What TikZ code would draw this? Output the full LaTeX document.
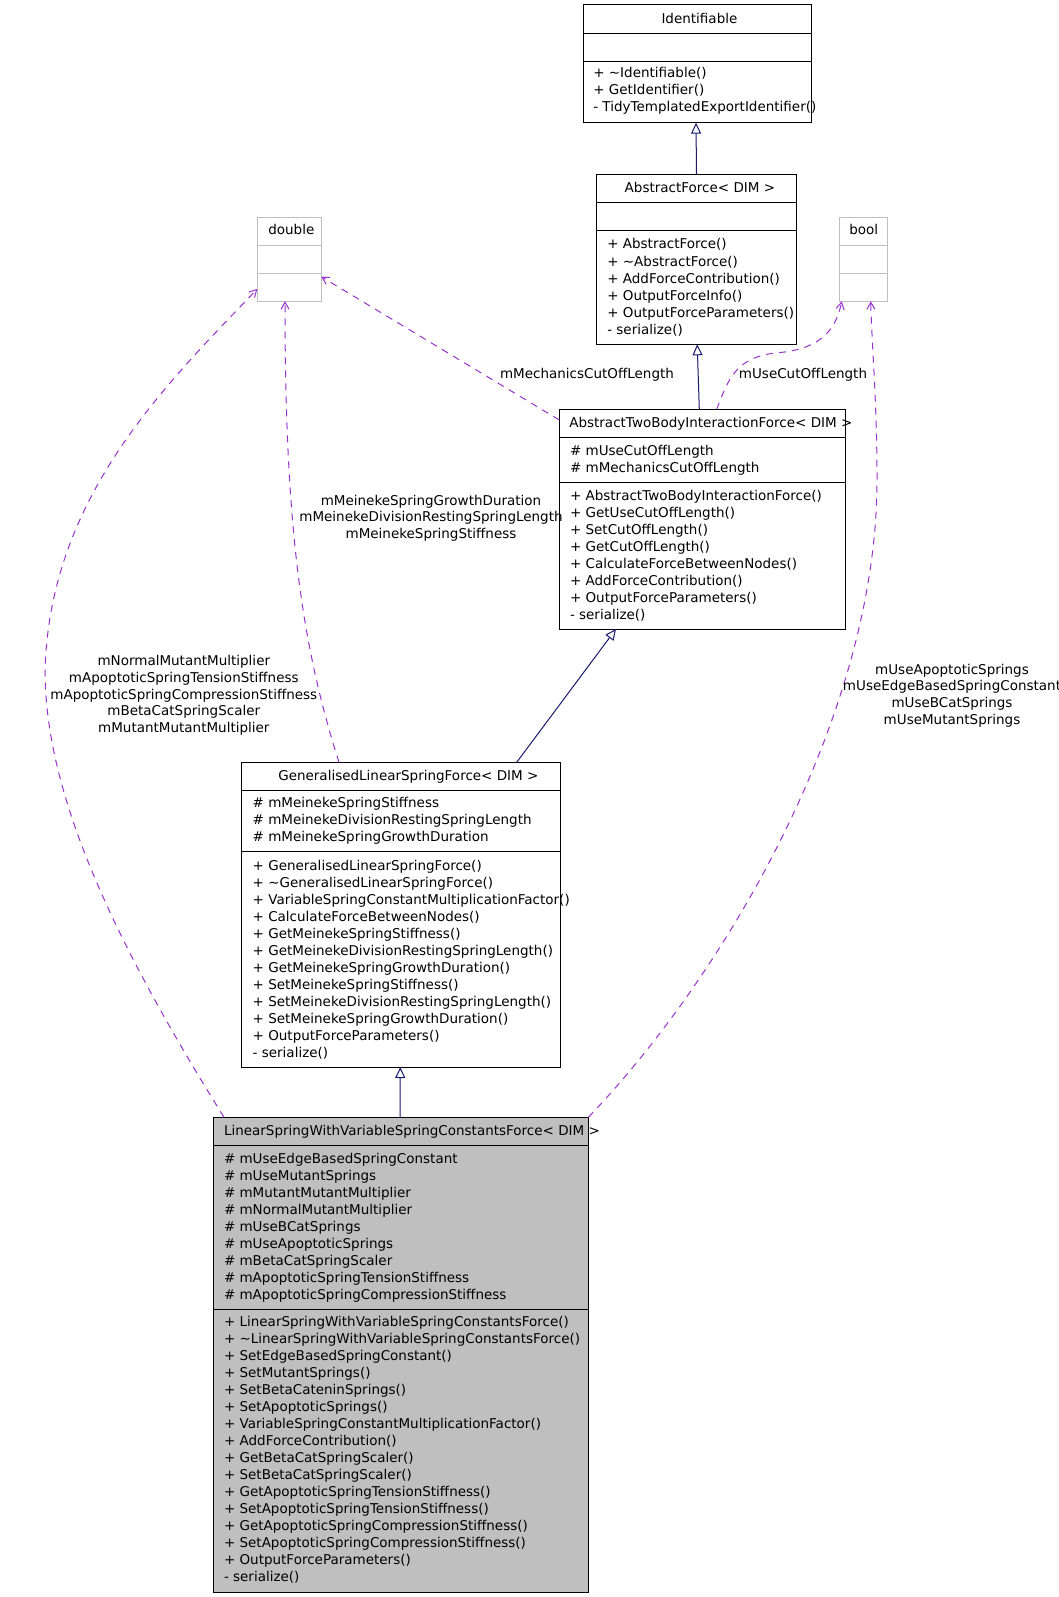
\documentclass[tikz,border=0pt]{standalone}
\usepackage{fontspec}
\setmainfont{DejaVu Sans}
\usetikzlibrary{arrows.meta}
\definecolor{edgeblue}{HTML}{191970}
\definecolor{usepurple}{HTML}{9A32CD}
\definecolor{boxgray}{HTML}{BFBFBF}
\tikzset{
  cls/.style={draw=black, line width=1pt, inner sep=0pt, outer sep=0pt, anchor=north west},
  clsgray/.style={cls, draw=boxgray},
  sepline/.style={draw=black, line width=1pt},
  sepgray/.style={draw=boxgray, line width=1pt},
  mem/.style={anchor=base west, inner sep=0pt, outer sep=0pt, font=\fontsize{13.5}{16}\selectfont},
  lbl/.style={anchor=base, inner sep=0pt, outer sep=0pt, font=\fontsize{13.5}{16}\selectfont},
  inh/.style={draw=edgeblue, line width=1pt, -{Triangle[open, length=11pt, width=10pt, fill=white]}},
  dep/.style={draw=usepurple, line width=1pt, dash pattern=on 7pt off 6pt, -{Straight Barb[length=7pt, width=8pt]}},
}
% #1 style, #2 name prefix, #3 x, #4 first baseline y, #5 step, #6 list
\newcommand\rowsof[6]{\foreach \rowtext [count=\i] in {#6} {\node[#1] (#2-\i) at (#3,{#4+(\i-1)*#5}) {\rowtext};}}
\begin{document}
\begin{tikzpicture}[x=1pt,y=-1pt]
\fill[white] (0,0) rectangle (1059,1597);
\useasboundingbox (0,0) rectangle (1059,1597);

% ---------- Identifiable ----------
\node[cls, minimum width=228pt, minimum height=117.7pt] (ident) at (583.5,5) {};
\draw[sepline] (ident.west |- 0,33.3) -- (ident.east |- 0,33.3);
\draw[sepline] (ident.west |- 0,61.7) -- (ident.east |- 0,61.7);
\node[mem] (ident-title) at (661.5,23.3) {Identifiable};
\rowsof{mem}{ident-m}{593.3}{77.7}{17.05}{+ \textasciitilde Identifiable(),+ GetIdentifier(),- TidyTemplatedExportIdentifier()}

% ---------- AbstractForce ----------
\node[cls, minimum width=200pt, minimum height=170pt] (af) at (596.7,174.3) {};
\draw[sepline] (af.west |- 0,202.3) -- (af.east |- 0,202.3);
\draw[sepline] (af.west |- 0,230.7) -- (af.east |- 0,230.7);
\node[mem] (af-title) at (624.7,192.3) {AbstractForce< DIM >};
\rowsof{mem}{af-m}{607.3}{249}{17.05}{+ AbstractForce(),+ \textasciitilde AbstractForce(),+ AddForceContribution(),+ OutputForceInfo(),+ OutputForceParameters(),- serialize()}

% ---------- double ----------
\node[clsgray, minimum width=64pt, minimum height=84pt] (double) at (257.3,217.3) {};
\draw[sepgray] (double.west |- 0,245.3) -- (double.east |- 0,245.3);
\draw[sepgray] (double.west |- 0,273.3) -- (double.east |- 0,273.3);
\node[mem] (double-title) at (268.3,234.3) {double};

% ---------- bool ----------
\node[clsgray, minimum width=48.4pt, minimum height=84pt] (bool) at (839.3,217.3) {};
\draw[sepgray] (bool.west |- 0,245.3) -- (bool.east |- 0,245.3);
\draw[sepgray] (bool.west |- 0,273.3) -- (bool.east |- 0,273.3);
\node[mem] (bool-title) at (849.3,234.3) {bool};

% ---------- AbstractTwoBodyInteractionForce ----------
\node[cls, minimum width=286.4pt, minimum height=219.7pt] (atb) at (559.3,409.3) {};
\draw[sepline] (atb.west |- 0,437.7) -- (atb.east |- 0,437.7);
\draw[sepline] (atb.west |- 0,482.3) -- (atb.east |- 0,482.3);
\node[mem] (atb-title) at (569.3,427.3) {AbstractTwoBodyInteractionForce< DIM >};
\rowsof{mem}{atb-a}{570}{455}{17.05}{\# mUseCutOffLength,\# mMechanicsCutOffLength}
\rowsof{mem}{atb-m}{570}{500}{17.05}{+ AbstractTwoBodyInteractionForce(),+ GetUseCutOffLength(),+ SetCutOffLength(),+ GetCutOffLength(),+ CalculateForceBetweenNodes(),+ AddForceContribution(),+ OutputForceParameters(),- serialize()}

% ---------- GeneralisedLinearSpringForce ----------
\node[cls, minimum width=319.4pt, minimum height=304.7pt] (glsf) at (241.3,762.3) {};
\draw[sepline] (glsf.west |- 0,790) -- (glsf.east |- 0,790);
\draw[sepline] (glsf.west |- 0,851.8) -- (glsf.east |- 0,851.8);
\node[mem] (glsf-title) at (278.3,780.4) {GeneralisedLinearSpringForce< DIM >};
\rowsof{mem}{glsf-a}{252.7}{807.4}{17.05}{\# mMeinekeSpringStiffness,\# mMeinekeDivisionRestingSpringLength,\# mMeinekeSpringGrowthDuration}
\rowsof{mem}{glsf-m}{252.7}{870.3}{17.05}{+ GeneralisedLinearSpringForce(),+ \textasciitilde GeneralisedLinearSpringForce(),+ VariableSpringConstantMultiplicationFactor(),+ CalculateForceBetweenNodes(),+ GetMeinekeSpringStiffness(),+ GetMeinekeDivisionRestingSpringLength(),+ GetMeinekeSpringGrowthDuration(),+ SetMeinekeSpringStiffness(),+ SetMeinekeDivisionRestingSpringLength(),+ SetMeinekeSpringGrowthDuration(),+ OutputForceParameters(),- serialize()}

% ---------- LinearSpringWithVariableSpringConstantsForce ----------
\node[cls, fill=boxgray, minimum width=375pt, minimum height=475pt] (lsw) at (213.3,1117.3) {};
\draw[sepline] (lsw.west |- 0,1145.7) -- (lsw.east |- 0,1145.7);
\draw[sepline] (lsw.west |- 0,1309.3) -- (lsw.east |- 0,1309.3);
\node[mem] (lsw-title) at (224,1135) {LinearSpringWithVariableSpringConstantsForce< DIM >};
\rowsof{mem}{lsw-a}{224}{1163.3}{17.05}{\# mUseEdgeBasedSpringConstant,\# mUseMutantSprings,\# mMutantMutantMultiplier,\# mNormalMutantMultiplier,\# mUseBCatSprings,\# mUseApoptoticSprings,\# mBetaCatSpringScaler,\# mApoptoticSpringTensionStiffness,\# mApoptoticSpringCompressionStiffness}
\rowsof{mem}{lsw-m}{224}{1326.7}{17.0}{+ LinearSpringWithVariableSpringConstantsForce(),+ \textasciitilde LinearSpringWithVariableSpringConstantsForce(),+ SetEdgeBasedSpringConstant(),+ SetMutantSprings(),+ SetBetaCateninSprings(),+ SetApoptoticSprings(),+ VariableSpringConstantMultiplicationFactor(),+ AddForceContribution(),+ GetBetaCatSpringScaler(),+ SetBetaCatSpringScaler(),+ GetApoptoticSpringTensionStiffness(),+ SetApoptoticSpringTensionStiffness(),+ GetApoptoticSpringCompressionStiffness(),+ SetApoptoticSpringCompressionStiffness(),+ OutputForceParameters(),- serialize()}

% ---------- inheritance ----------
\draw[inh] ([xshift=99.8pt]af.north west) -- ([xshift=112.5pt]ident.south west);
\draw[inh] ([xshift=140pt]atb.north west) -- ([xshift=100.5pt]af.south west);
\draw[inh] ([xshift=275.4pt]glsf.north west) -- ([xshift=56.7pt]atb.south west);
\draw[inh] ([xshift=186.7pt]lsw.north west) -- ([xshift=159pt]glsf.south west);

% ---------- usage ----------
\draw[dep] ([yshift=-10.7pt]atb.north west) -- ([yshift=24.6pt]double.south east);
\node[lbl] (lbl-mech) at (587,378.3) {mMechanicsCutOffLength};

\draw[dep] ([xshift=157.4pt]atb.north west) .. controls (728,380) and (735,358) .. (775,353)
  .. controls (815,350) and (835,335) .. ([xshift=2.4pt]bool.south west);
\node[lbl] (lbl-usecut) at (803,378.3) {mUseCutOffLength};

\draw[dep] ([xshift=97.7pt]glsf.north west) .. controls (300,640) and (285,520) .. ([xshift=27.7pt]double.south west);
\rowsof{lbl}{lbl-mein}{431}{505}{16.7}{mMeinekeSpringGrowthDuration,mMeinekeDivisionRestingSpringLength,mMeinekeSpringStiffness}

\draw[dep] ([xshift=10.7pt]lsw.north west) .. controls (120,950) and (45,800) .. (45,670)
  .. controls (50,500) and (160,390) .. ([yshift=12.3pt]double.south west);
\rowsof{lbl}{lbl-left}{183.8}{665.7}{16.65}{mNormalMutantMultiplier,mApoptoticSpringTensionStiffness,mApoptoticSpringCompressionStiffness,mBetaCatSpringScaler,mMutantMutantMultiplier}

\draw[dep] (lsw.north east) .. controls (720,980) and (877,720) .. (877,480)
  .. controls (877,400) and (872,350) .. ([xshift=31.4pt]bool.south west);
\rowsof{lbl}{lbl-right}{952}{674}{16.9}{mUseApoptoticSprings,mUseEdgeBasedSpringConstant,mUseBCatSprings,mUseMutantSprings}
\end{tikzpicture}
\end{document}
